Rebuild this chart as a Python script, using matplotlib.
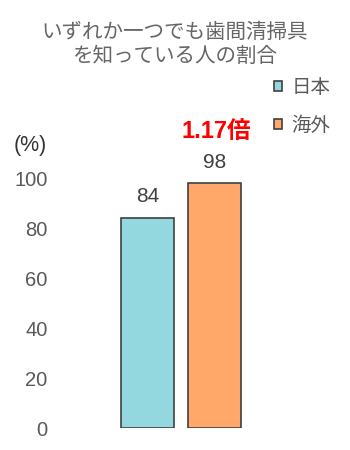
import matplotlib
matplotlib.use("Agg")
import matplotlib.pyplot as plt

plt.rcParams['font.family'] = ['Liberation Sans', 'Noto Sans CJK JP', 'DejaVu Sans']

# data
categories = ['日本', '海外']
values = [84, 98]
colors = ['#93D8DF', '#FFA86A']
ratio_label = '1.17倍'
title = 'いずれか一つでも歯間清掃具\nを知っている人の割合'
yticks = [0, 20, 40, 60, 80, 100]

fig = plt.figure(figsize=(3.5, 4.5), dpi=100)
# axes: x 60..300 px, y 0 at 428 px, 120 at 128 px
ax = fig.add_axes([60 / 350, 1 - 428 / 450, 240 / 350, 300 / 450])

x = list(range(len(categories)))
bars = ax.bar(x, values, width=0.8, color=colors, edgecolor='#404040',
              linewidth=1.2, label=categories)
ax.set_xlim(-1.306, 2.276)
ax.set_ylim(0, 120)

ax.set_yticks(yticks)
ax.set_yticklabels([str(t) for t in yticks], fontsize=14.5, color='#595959')
ax.tick_params(axis='y', length=0, pad=9)
ax.set_xticks([])
for s in ax.spines.values():
    s.set_visible(False)

for xi, v in zip(x, values):
    ax.text(xi, v + 8.4, str(v), ha='center', va='center', fontsize=15, color='#404040')

ax.text(x[1] + 0.02, values[1] + 20.5, ratio_label, ha='center', va='center',
        fontsize=17, fontweight='bold', color='#FF0000')

fig.text(14 / 350, 1 - 145 / 450, '(%)', ha='left', va='center', fontsize=15.5, color='#333333')

fig.text(0.5, 1 - 44 / 450, title, ha='center', va='center', fontsize=14.8,
         color='#666666', linespacing=1.3)

leg = fig.legend(handles=bars, labels=categories, loc='upper left',
                 bbox_to_anchor=(274 / 350, 1 - 79 / 450), frameon=False,
                 borderpad=0, borderaxespad=0,
                 fontsize=14, handlelength=0.4, handleheight=0.4, handletextpad=0.5,
                 labelspacing=1.0, labelcolor='#595959')

fig.savefig('out.png', dpi=100)
